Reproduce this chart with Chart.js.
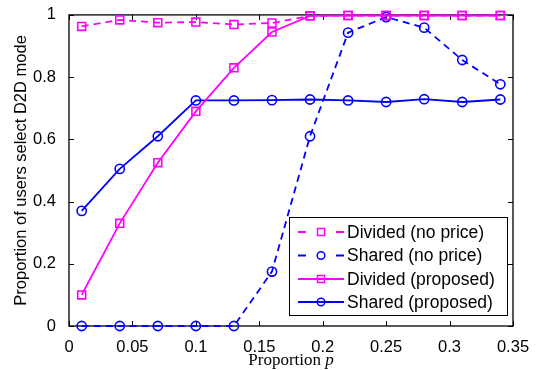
<!DOCTYPE html>
<html lang="en">
<head>
  <meta charset="UTF-8">
  <title>Proportion of users select D2D mode</title>
  <script src="https://cdn.jsdelivr.net/npm/chart.js"></script>
  <style>
    html, body { margin: 0; padding: 0; background: #fff; }
    #wrap { width: 541px; height: 370px; }
  </style>
</head>
<body>
  <div id="wrap"><canvas id="chart" width="541" height="370"></canvas></div>

  <script>
    // values
    const pValues = [0.01, 0.04, 0.07, 0.10, 0.13, 0.16, 0.19, 0.22, 0.25, 0.28, 0.31, 0.34];
    const dividedNoPrice  = [0.963, 0.984, 0.975, 0.977, 0.969, 0.974, 0.997, 0.998, 0.998, 0.998, 0.998, 0.998];
    const sharedNoPrice   = [0, 0, 0, 0, 0, 0.175, 0.61, 0.943, 0.993, 0.959, 0.855, 0.777];
    const dividedProposed = [0.10, 0.33, 0.525, 0.69, 0.83, 0.945, 0.997, 0.998, 0.998, 0.998, 0.998, 0.998];
    const sharedProposed  = [0.37, 0.505, 0.61, 0.725, 0.725, 0.726, 0.728, 0.725, 0.72, 0.729, 0.72, 0.728];
    const xTicks = [0, 0.05, 0.1, 0.15, 0.2, 0.25, 0.3, 0.35];
    const yTicks = [0, 0.2, 0.4, 0.6, 0.8, 1];

    const MAGENTA = "#ff00ff";
    const BLUE = "#0000ff";
    const sans = "'Liberation Sans', Arial, sans-serif";

    const pts = ys => ys.map((y, i) => ({ x: pValues[i], y: y }));

    function series(label, ys, color, dashed, marker) {
      return {
        label: label,
        data: pts(ys),
        borderColor: color,
        backgroundColor: "rgba(0,0,0,0)",
        borderWidth: 1.8,
        borderDash: dashed ? [7, 5] : [],
        pointStyle: marker,
        pointRadius: marker === "rect" ? 5.6 : 4.6,
        pointBorderWidth: 1.6,
        pointBorderColor: color,
        pointBackgroundColor: "rgba(0,0,0,0)",
        tension: 0,
        clip: false
      };
    }

    // frame, inward ticks, axis titles and the boxed legend
    const matlabLook = {
      id: "matlabLook",
      beforeDatasetsDraw(chart) {
        const { ctx, chartArea: a, scales: { x, y } } = chart;
        ctx.save();
        ctx.strokeStyle = "#000";
        ctx.lineWidth = 1;
        ctx.beginPath();
        xTicks.forEach(v => {
          const px = Math.round(x.getPixelForValue(v)) + 0.5;
          ctx.moveTo(px, a.bottom); ctx.lineTo(px, a.bottom - 5);
          ctx.moveTo(px, a.top); ctx.lineTo(px, a.top + 5);
        });
        yTicks.forEach(v => {
          const py = Math.round(y.getPixelForValue(v)) + 0.5;
          ctx.moveTo(a.left, py); ctx.lineTo(a.left + 5, py);
          ctx.moveTo(a.right, py); ctx.lineTo(a.right - 5, py);
        });
        ctx.stroke();
        ctx.lineWidth = 1.3;
        ctx.strokeRect(a.left, a.top, a.right - a.left, a.bottom - a.top);

        // y title
        ctx.fillStyle = "#000";
        ctx.font = "16.5px " + sans;
        ctx.textAlign = "center";
        ctx.textBaseline = "middle";
        ctx.translate(21, (a.top + a.bottom) / 2);
        ctx.rotate(-Math.PI / 2);
        ctx.fillText("Proportion of users select D2D mode", 0, 0);
        ctx.restore();

        // x title: "Proportion p" with italic p
        ctx.save();
        ctx.fillStyle = "#000";
        ctx.textBaseline = "alphabetic";
        ctx.textAlign = "left";
        const f1 = "17px 'Liberation Serif', 'Times New Roman', serif";
        const f2 = "italic 17px 'Liberation Serif', 'Times New Roman', serif";
        ctx.font = f1;
        const w1 = ctx.measureText("Proportion ").width;
        ctx.font = f2;
        const w2 = ctx.measureText("p").width;
        const sx = (a.left + a.right) / 2 - (w1 + w2) / 2;
        ctx.font = f1;
        ctx.fillText("Proportion ", sx, 365);
        ctx.font = f2;
        ctx.fillText("p", sx + w1, 365);
        ctx.restore();
      },
      afterDraw(chart) {
        const { ctx } = chart;
        const box = { l: 289.5, t: 217.5, r: 507.5, b: 315.5 };
        ctx.save();
        ctx.fillStyle = "#fff";
        ctx.fillRect(box.l, box.t, box.r - box.l, box.b - box.t);
        ctx.strokeStyle = "#000";
        ctx.lineWidth = 1;
        ctx.strokeRect(box.l, box.t, box.r - box.l, box.b - box.t);
        const rows = [232, 255.5, 279, 302];
        chart.data.datasets.forEach((ds, i) => {
          const ry = rows[i];
          ctx.strokeStyle = ds.borderColor;
          ctx.lineWidth = ds.borderWidth;
          ctx.beginPath();
          if (ds.borderDash.length) {
            ctx.moveTo(298, ry); ctx.lineTo(306, ry);
            ctx.moveTo(336, ry); ctx.lineTo(344, ry);
          } else {
            ctx.moveTo(298, ry); ctx.lineTo(344, ry);
          }
          ctx.stroke();
          ctx.lineWidth = 1.5;
          ctx.beginPath();
          if (ds.pointStyle === "rect") {
            ctx.rect(317.5, ry - 3.5, 7, 7);
          } else {
            ctx.arc(321, ry, 3.8, 0, Math.PI * 2);
          }
          ctx.stroke();
          ctx.fillStyle = "#000";
          ctx.font = "17.5px " + sans;
          ctx.textAlign = "left";
          ctx.textBaseline = "middle";
          ctx.fillText(ds.label, 347, ry + 1);
        });
        ctx.restore();
      }
    };

    const fmt = v => String(Number(v.toFixed(2)));

    new Chart(document.getElementById("chart"), {
      type: "line",
      data: {
        datasets: [
          series("Divided (no price)", dividedNoPrice, MAGENTA, true, "rect"),
          series("Shared (no price)", sharedNoPrice, BLUE, true, "circle"),
          series("Divided (proposed)", dividedProposed, MAGENTA, false, "rect"),
          series("Shared (proposed)", sharedProposed, BLUE, false, "circle")
        ]
      },
      options: {
        responsive: false,
        animation: false,
        layout: { padding: { top: 11, right: 28, left: 0, bottom: 0 } },
        plugins: { legend: { display: false }, tooltip: { enabled: false } },
        scales: {
          x: {
            type: "linear",
            min: 0, max: 0.35,
            afterBuildTicks: s => { s.ticks = xTicks.map(v => ({ value: v })); },
            afterFit: s => { s.height = 44; },
            grid: { display: false },
            border: { display: false },
            ticks: { color: "#000", font: { family: sans, size: 16.5 }, padding: 4, maxRotation: 0, autoSkip: false, callback: fmt }
          },
          y: {
            type: "linear",
            min: 0, max: 1,
            afterBuildTicks: s => { s.ticks = yTicks.map(v => ({ value: v })); },
            afterFit: s => { s.width = 69; },
            grid: { display: false },
            border: { display: false },
            ticks: { color: "#000", font: { family: sans, size: 16.5 }, padding: 5, autoSkip: false, callback: fmt }
          }
        }
      },
      plugins: [matlabLook]
    });
  </script>
</body>
</html>
